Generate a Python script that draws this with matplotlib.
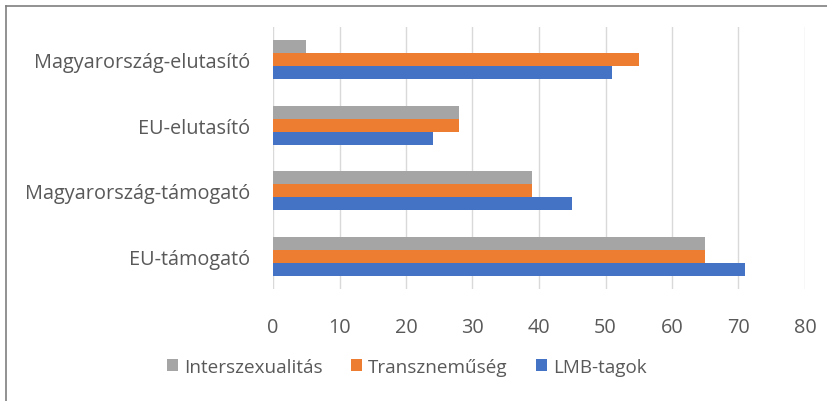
import matplotlib
matplotlib.use("Agg")
import matplotlib.pyplot as plt
from matplotlib.lines import Line2D
import numpy as np

categories = ["EU-támogató", "Magyarország-támogató", "EU-elutasító", "Magyarország-elutasító"]
series_names = ["LMB-tagok", "Transzneműség", "Interszexualitás"]
lmb = [71, 45, 24, 51]
transz = [65, 39, 28, 55]
inter = [65, 39, 28, 5]
colors = ["#4472C4", "#ED7D31", "#A5A5A5"]
xticks = [0, 10, 20, 30, 40, 50, 60, 70, 80]

plt.rcParams['font.family'] = ['Open Sans', 'DejaVu Sans']
fig = plt.figure(figsize=(8.28, 4.02), dpi=100)
ax = fig.add_axes([273/828, 1-290/402, (805-273)/828, (290-28)/402])

y = np.arange(len(categories))
h = 0.2
for i, (vals, name, c) in enumerate(zip([lmb, transz, inter], series_names, colors)):
    ax.barh(y + (i-1)*h, vals, height=h, color=c, label=name, zorder=3)

ax.set_xlim(0, 80)
ax.set_ylim(-0.5, 3.5)
ax.set_xticks(xticks)
ax.set_xticklabels([str(t) for t in xticks])
ax.set_yticks(y)
ax.set_yticklabels(categories)
ax.grid(axis='x', color='#D9D9D9', linewidth=1, zorder=0)
for s in ax.spines.values():
    s.set_visible(False)
ax.tick_params(axis='both', length=0, labelsize=14.3, colors='#595959')
ax.tick_params(axis='y', pad=16.5)
ax.tick_params(axis='x', pad=20)

handles, labels = ax.get_legend_handles_labels()
leg = fig.legend(handles[::-1], labels[::-1], loc='center', bbox_to_anchor=(407/828, 1-368/402),
                 ncol=3, frameon=False, fontsize=13.6, handlelength=0.6, handleheight=0.6,
                 columnspacing=1.5, handletextpad=0.3)
for t in leg.get_texts():
    t.set_color('#595959')

fig.add_artist(Line2D([6/828, 1], [1-7/402, 1-7/402], transform=fig.transFigure, color='#7F7F7F', linewidth=1.2))
fig.add_artist(Line2D([6/828, 6/828], [0, 1-7/402], transform=fig.transFigure, color='#7F7F7F', linewidth=1.2))

fig.savefig("out.png", dpi=100)
